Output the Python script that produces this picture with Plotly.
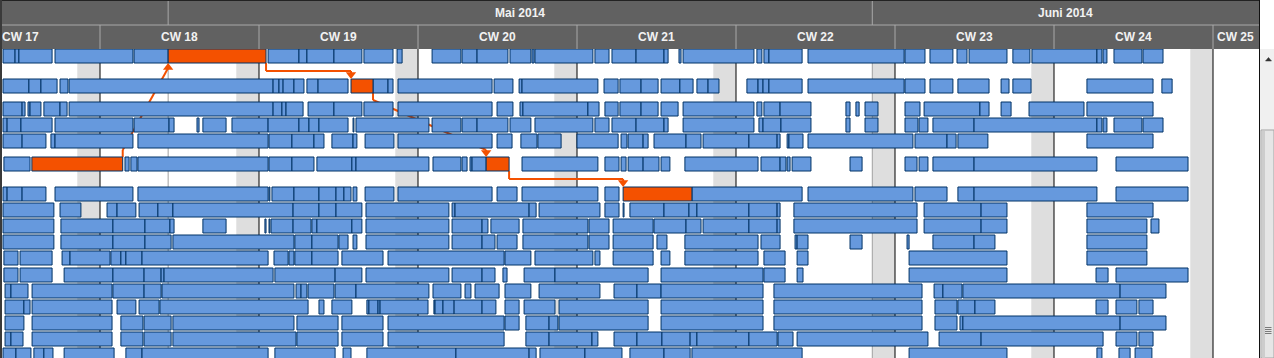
import pandas as pd
import plotly.graph_objects as go

# ---------------------------------------------------------------- data
BASE_DATE = "2014-04-28"            # day 0 = Monday of CW 18
VIEW_START = "2014-04-23 16:27"
VIEW_END = "2014-06-18 00:36"

WEEK_NUMBERS = [17, 18, 19, 20, 21, 22, 23, 24, 25]
WEEK_STARTS = ["2014-04-21", "2014-04-28", "2014-05-05", "2014-05-12", "2014-05-19",
               "2014-05-26", "2014-06-02", "2014-06-09", "2014-06-16"]
MONTH_LABELS = ["Mai 2014", "Juni 2014"]
MONTH_STARTS = ["2014-05-01", "2014-06-01"]
MONTH_ENDS = ["2014-06-01", "2014-07-01"]

# task intervals per resource row: (start_day, end_day) relative to BASE_DATE
ROW_01 = [(-4.27, -3.74), (-3.74, -3.57), (-3.57, -2.11), (-1.98, 1.45), (1.50, 3.00),
          (7.40, 8.76), (8.76, 9.11), (9.11, 10.30), (10.30, 11.53), (11.62, 12.90), (13.08, 13.30),
          (14.62, 15.89), (15.94, 16.60), (16.60, 17.96), (18.05, 18.97), (19.02, 19.11), (19.15, 21.70),
          (21.79, 22.41), (22.54, 23.60), (23.60, 24.83), (24.83, 25.01), (25.49, 25.58), (25.67, 28.79),
          (28.92, 29.14), (29.23, 29.45), (29.45, 30.91), (31.17, 35.40), (35.44, 36.32), (36.54, 37.55),
          (37.73, 38.17), (38.26, 39.93), (40.19, 40.94), (41.03, 43.89), (43.89, 44.11), (44.16, 44.33),
          (44.64, 45.87), (45.92, 46.80)]
ROW_02 = [(-4.27, -3.13), (-3.13, -2.60), (-2.60, -1.89), (-1.76, -1.41), (-1.36, 7.62), (7.62, 7.88),
          (7.88, 8.06), (8.06, 8.54), (8.54, 8.98), (9.11, 9.60), (9.60, 10.92), (12.02, 12.68),
          (12.68, 12.90), (13.12, 17.26), (17.35, 18.18), (18.45, 18.58), (18.58, 21.92), (22.19, 22.81),
          (22.89, 23.82), (23.82, 24.57), (24.70, 25.53), (25.53, 26.11), (26.28, 26.77), (26.77, 27.25),
          (28.48, 28.97), (28.97, 29.19), (29.19, 29.45), (29.45, 30.91), (31.17, 35.40), (35.44, 36.32),
          (36.54, 37.55), (37.77, 39.14), (39.67, 40.02), (40.19, 40.99), (43.45, 46.36), (46.75, 47.20)]
ROW_03 = [(-4.27, -3.43), (-3.43, -3.30), (-3.17, -3.08), (-3.08, -2.60), (-2.47, -1.76), (-1.76, -1.45),
          (-1.36, 7.62), (7.62, 8.01), (8.01, 8.19), (8.19, 8.94), (9.16, 10.30), (10.30, 11.53),
          (11.62, 12.90), (13.12, 17.26), (17.48, 18.18), (18.49, 18.62), (18.62, 21.48), (21.48, 21.97),
          (22.23, 22.81), (22.89, 23.82), (23.82, 24.57), (24.70, 25.45), (25.67, 28.79), (28.92, 29.14),
          (29.23, 29.94), (29.94, 31.30), (32.84, 33.02), (33.28, 33.42), (33.68, 34.25), (35.44, 36.10),
          (36.28, 38.74), (38.74, 39.14), (39.67, 40.11), (40.90, 43.32), (43.45, 46.36)]
ROW_04 = [(-4.27, -4.09), (-4.09, -3.48), (-3.48, -2.11), (-1.98, 1.45), (1.50, 3.04), (3.04, 3.26),
          (4.27, 4.36), (4.53, 5.55), (5.81, 7.40), (7.40, 8.76), (8.76, 9.20), (9.20, 9.64), (9.64, 10.92),
          (11.14, 11.18), (11.27, 14.48), (14.62, 15.89), (15.94, 16.60), (16.60, 17.96), (18.05, 18.97),
          (19.15, 21.70), (21.79, 22.41), (22.54, 23.60), (23.60, 24.83), (24.83, 25.01), (25.67, 28.79),
          (29.01, 29.19), (29.19, 29.98), (29.98, 31.30), (32.84, 33.02), (33.68, 34.25), (35.44, 36.01),
          (36.06, 36.45), (36.67, 38.48), (38.48, 43.89), (43.89, 44.11), (44.16, 44.33), (44.64, 45.87),
          (45.92, 46.80)]
ROW_05 = [(-4.27, -3.43), (-3.43, -2.38), (-2.16, -1.98), (-1.98, 1.45), (1.67, 7.40), (7.44, 8.45),
          (8.45, 9.42), (9.42, 9.86), (10.21, 11.14), (11.14, 11.31), (11.67, 12.94), (13.12, 17.26),
          (17.48, 18.14), (18.53, 19.24), (19.28, 20.30), (21.00, 22.81), (22.94, 23.20), (23.25, 23.91),
          (23.91, 24.13), (24.39, 25.80), (25.80, 26.46), (26.55, 28.57), (28.57, 29.81), (29.81, 29.94),
          (30.25, 30.33), (30.33, 30.95), (31.17, 35.79), (35.88, 37.29), (37.29, 37.69), (37.77, 39.09),
          (43.45, 46.36)]
ROW_06 = [(-4.23, -3.08), (1.10, 1.28), (1.36, 1.63), (1.67, 7.40), (7.44, 8.45), (8.45, 9.42),
          (9.55, 11.09), (11.09, 11.27), (11.27, 14.48), (14.66, 15.89), (15.94, 16.16), (16.29, 16.38),
          (16.38, 17.00), (18.58, 21.92), (22.23, 22.85), (22.94, 23.16), (23.25, 23.91), (23.91, 24.61),
          (24.70, 25.09), (25.75, 28.97), (29.10, 29.94), (29.94, 30.20), (30.25, 30.38), (30.47, 31.30),
          (33.02, 33.55), (35.44, 35.97), (36.06, 36.45), (36.67, 38.48), (38.48, 43.89), (44.73, 47.90)]
ROW_07 = [(-4.27, -4.09), (-4.09, -3.43), (-3.43, -2.38), (-1.98, 1.45), (1.67, 7.40), (7.44, 7.48),
          (7.57, 8.54), (8.54, 9.64), (9.64, 10.39), (10.39, 10.74), (10.74, 11.05), (11.14, 11.31),
          (11.67, 12.94), (13.12, 17.26), (17.48, 18.36), (18.58, 21.92), (22.23, 22.85), (26.06, 30.91),
          (31.17, 35.79), (35.88, 37.29), (37.77, 38.48), (38.48, 43.89), (44.73, 47.90)]
ROW_08 = [(-4.27, -2.03), (-1.76, -0.84), (0.31, 0.75), (0.75, 1.58), (1.72, 2.55), (2.55, 3.21),
          (3.21, 8.50), (8.50, 9.64), (9.64, 10.39), (10.39, 11.53), (11.71, 15.36), (15.50, 15.63),
          (15.63, 18.89), (18.89, 19.20), (19.33, 22.01), (22.23, 22.85), (23.03, 23.07), (23.33, 24.83),
          (24.83, 25.93), (25.93, 26.28), (26.28, 28.57), (28.57, 29.81), (29.81, 29.94), (30.55, 35.97),
          (36.28, 38.79), (38.79, 39.93), (43.45, 46.36)]
ROW_09 = [(-4.27, -2.03), (-1.72, 0.57), (0.57, 1.98), (1.98, 3.08), (3.08, 3.26), (4.53, 5.55),
          (7.26, 7.31), (7.44, 7.48), (7.53, 8.50), (8.50, 9.29), (9.33, 9.55), (9.55, 11.09), (11.09, 11.53),
          (11.71, 15.36), (15.50, 16.82), (16.82, 17.08), (17.21, 18.45), (18.62, 21.48), (21.53, 22.41),
          (22.59, 24.35), (24.39, 25.80), (25.80, 26.46), (26.55, 28.57), (28.57, 29.81), (29.81, 29.94),
          (30.55, 35.97), (36.28, 38.79), (38.79, 39.93), (43.45, 46.09), (46.27, 46.62)]
ROW_10 = [(-4.27, -2.03), (-1.72, 0.57), (0.57, 1.98), (1.98, 3.13), (3.21, 8.54), (8.58, 9.33),
          (9.33, 10.48), (10.52, 10.92), (11.14, 11.31), (11.71, 15.36), (15.50, 16.82), (16.82, 17.39),
          (17.48, 18.36), (18.62, 21.48), (21.53, 22.41), (22.59, 24.35), (24.52, 24.96), (25.75, 28.97),
          (29.10, 29.94), (30.60, 30.69), (30.69, 31.17), (33.02, 33.55), (35.53, 35.62), (36.67, 38.48),
          (38.48, 39.40), (43.45, 46.09)]
ROW_11 = [(-4.23, -3.61), (-3.52, -2.11), (-1.67, -1.32), (-1.32, 0.44), (0.48, 0.92), (0.92, 1.14),
          (1.14, 1.85), (1.85, 7.40), (7.66, 8.28), (8.32, 8.54), (8.58, 9.33), (9.33, 10.48),
          (10.65, 12.46), (12.68, 17.79), (17.83, 18.97), (19.15, 21.70), (21.79, 22.01), (22.59, 24.35),
          (24.70, 25.09), (25.75, 28.97), (29.23, 30.16), (30.69, 31.17), (35.62, 39.93), (43.45, 46.09)]
ROW_12 = [(-4.23, -3.61), (-3.52, -2.11), (-1.58, 0.57), (0.57, 1.94), (1.94, 2.69), (2.69, 2.82),
          (2.82, 7.62), (7.70, 10.35), (10.35, 11.53), (11.71, 15.36), (15.50, 16.82), (16.82, 17.39),
          (17.74, 17.92), (18.67, 20.03), (20.03, 24.13), (24.70, 29.19), (29.23, 30.16), (30.69, 30.95),
          (35.62, 39.93), (43.85, 44.38), (44.73, 47.90)]
ROW_13 = [(-4.18, -3.92), (-3.92, -3.17), (-2.99, 0.53), (0.57, 1.94), (1.94, 2.69), (2.73, 8.54),
          (8.63, 8.85), (8.85, 9.11), (9.16, 10.30), (10.35, 11.27), (11.27, 14.48), (14.66, 15.89),
          (16.07, 16.33), (16.51, 17.57), (17.83, 18.97), (19.33, 22.01), (22.63, 23.64), (23.64, 24.70),
          (24.70, 29.19), (29.67, 36.19), (36.72, 37.11), (37.11, 37.95), (37.99, 44.91), (44.91, 46.93)]
ROW_14 = [(-4.18, -3.35), (-3.35, -3.08), (-2.99, 0.53), (0.75, 1.58), (1.72, 2.60), (2.64, 9.16),
          (9.64, 9.86), (10.21, 11.09), (11.75, 11.84), (11.84, 12.24), (12.24, 12.33), (12.33, 14.44),
          (14.70, 14.75), (14.75, 15.10), (15.10, 15.59), (15.59, 16.82), (16.82, 17.43), (17.83, 18.45),
          (18.67, 20.03), (20.21, 24.13), (24.70, 29.19), (29.67, 36.19), (36.76, 37.73), (37.77, 38.52),
          (38.52, 39.40), (43.85, 44.38), (44.73, 45.65), (45.74, 46.36)]
ROW_15 = [(-4.18, -3.35), (-2.99, 0.53), (0.92, 1.89), (1.94, 3.13), (3.21, 8.54), (8.67, 10.48),
          (10.65, 12.46), (12.68, 17.79), (17.83, 18.45), (18.75, 19.77), (19.77, 20.16), (20.21, 24.13),
          (24.70, 29.19), (29.67, 36.19), (36.76, 37.73), (37.86, 37.99), (37.99, 44.91), (44.91, 46.93)]
ROW_16 = [(-4.18, -3.92), (-3.92, -3.39), (-2.99, 0.53), (0.92, 1.89), (1.94, 3.13), (3.21, 8.63),
          (8.67, 10.48), (10.65, 12.46), (12.68, 17.79), (18.75, 19.77), (19.77, 21.66), (21.66, 21.92),
          (22.63, 23.64), (23.64, 24.74), (24.74, 25.98), (25.98, 26.28), (26.28, 28.57), (28.57, 29.81),
          (29.85, 30.51), (30.69, 36.45), (36.94, 38.79), (38.79, 44.16), (44.73, 45.65), (45.74, 46.36)]
ROW_17 = [(-4.27, -3.70), (-3.70, -3.04), (-2.91, -2.47), (-2.47, -2.07), (-1.58, 0.62), (1.14, 1.85),
          (1.85, 7.40), (7.70, 10.35), (10.70, 11.05), (11.75, 15.67), (15.67, 18.89), (18.89, 19.20),
          (19.37, 21.35), (21.35, 22.98), (23.33, 24.83), (24.83, 25.98), (26.06, 30.91), (35.62, 39.93),
          (43.89, 44.11), (44.86, 45.35), (45.57, 46.31)]
ROW_TASKS = [ROW_01, ROW_02, ROW_03, ROW_04, ROW_05, ROW_06, ROW_07, ROW_08, ROW_09,
             ROW_10, ROW_11, ROW_12, ROW_13, ROW_14, ROW_15, ROW_16, ROW_17]

# critical path tasks (row index, start_day, end_day), linked in this order
CRITICAL_TASKS = [(5, -3.00, 1.00), (0, 3.00, 7.31), (1, 11.05, 12.02), (5, 17.00, 18.01), (6, 23.03, 26.06)]

# ---------------------------------------------------------------- layout constants
W, H = 1274, 358
M_L, M_R, M_T, M_B = 2, 15, 49, 0
PW, PH = W - M_L - M_R, H - M_T - M_B
ROW_Y = [56, 86, 109, 125, 141, 164, 194, 210, 226, 242, 258, 275, 291, 307, 323, 339, 355]
BAR_H = 14

BLUE = "#6699dd"
NAVY = "#003366"
ORANGE = "#f45100"
HEADER = "#616161"
HEADER_LINE = "#a9a9a9"
WEEKEND = "#dedede"

base = pd.Timestamp(BASE_DATE)


def to_date(d):
    return base + pd.to_timedelta(d, unit="D")


def ds(ts):
    return pd.Timestamp(ts).strftime("%Y-%m-%d %H:%M:%S")


def fx(px):
    return (px - M_L) / PW


def fy(py):
    return (H - M_B - py) / PH


fig = go.Figure()

# ---- bars
def bar_trace(items, color):
    ys, bs, xs = [], [], []
    for r, s, e in items:
        ys.append(ROW_Y[r])
        bs.append(ds(to_date(s)))
        xs.append((e - s) * 86400000.0)
    return go.Bar(orientation="h", y=ys, base=bs, x=xs, width=BAR_H,
                  marker=dict(color=color, line=dict(color=NAVY, width=1)),
                  hoverinfo="skip", showlegend=False)

blue_items = [(r, s, e) for r, tasks in enumerate(ROW_TASKS) for s, e in tasks]
fig.add_trace(bar_trace(blue_items, BLUE))
fig.add_trace(bar_trace(CRITICAL_TASKS, ORANGE))

shapes = []
# ---- weekend (Sunday) bands and week/month lines
vs, ve = pd.Timestamp(VIEW_START), pd.Timestamp(VIEW_END)
for wk in WEEK_STARTS + ["2014-06-23"]:
    sun = pd.Timestamp(wk) - pd.Timedelta(days=1)
    shapes.append(dict(type="rect", xref="x", yref="paper", x0=ds(sun), x1=ds(wk),
                       y0=0, y1=1, fillcolor=WEEKEND, line=dict(width=0), layer="below"))
for wk in WEEK_STARTS:
    shapes.append(dict(type="line", xref="x", yref="paper", x0=wk, x1=wk, y0=0, y1=1,
                       line=dict(color="#000000", width=1), layer="below"))
for ms in MONTH_STARTS:
    shapes.append(dict(type="line", xref="x", yref="paper", x0=ms, x1=ms, y0=0, y1=1,
                       line=dict(color="#a0a0a0", width=1), layer="below"))

# ---- dependency links between critical tasks
arr_x, arr_y, arr_s = [], [], []
half = BAR_H / 2
for (r0, s0, e0), (r1, s1, e1) in zip(CRITICAL_TASKS[:-1], CRITICAL_TASKS[1:]):
    y0, y1 = ROW_Y[r0], ROW_Y[r1]
    xa, xb = ds(to_date(e0)), ds(to_date(s1))
    if y1 < y0:
        pts = [(xa, y0 - half), (xa, y0 - half - 7), (xb, y1 + half + 5)]
        arr_x.append(xb); arr_y.append(y1 + half + 4.5); arr_s.append("triangle-up")
    elif y1 - y0 <= 40:
        ym = y0 + half + 8
        pts = [(xa, y0 + half), (xa, ym), (xb, ym), (xb, y1 - half - 4)]
        arr_x.append(xb); arr_y.append(y1 - half - 4.5); arr_s.append("triangle-down")
    else:
        pts = [(xa, y0 + half), (xa, y0 + half + 7), (xb, y1 - half - 7), (xb, y1 - half - 4)]
        arr_x.append(xb); arr_y.append(y1 - half - 4.5); arr_s.append("triangle-down")
    for (px0, py0), (px1, py1) in zip(pts[:-1], pts[1:]):
        shapes.append(dict(type="line", xref="x", yref="y", x0=px0, x1=px1, y0=py0, y1=py1,
                           line=dict(color=ORANGE, width=2), layer="below"))

fig.add_trace(go.Scatter(x=arr_x, y=arr_y, mode="markers",
                         marker=dict(symbol=arr_s, size=9, color=ORANGE, line=dict(width=0)),
                         hoverinfo="skip", showlegend=False))

# ---- header
shapes.append(dict(type="rect", xref="paper", yref="paper", x0=fx(0), x1=fx(1259.5),
                   y0=fy(49), y1=fy(0), fillcolor=HEADER, line=dict(width=0), layer="above"))
shapes.append(dict(type="line", xref="paper", yref="paper", x0=fx(0), x1=fx(1259.5),
                   y0=fy(25), y1=fy(25), line=dict(color=HEADER_LINE, width=1), layer="above"))
for ms in MONTH_STARTS:
    shapes.append(dict(type="line", xref="x", yref="paper", x0=ms, x1=ms, y0=fy(25), y1=fy(0),
                       line=dict(color=HEADER_LINE, width=1), layer="above"))
for wk in WEEK_STARTS:
    shapes.append(dict(type="line", xref="x", yref="paper", x0=wk, x1=wk, y0=fy(49), y1=fy(25),
                       line=dict(color=HEADER_LINE, width=1), layer="above"))

annotations = []
hdr_font = dict(family="Arial, Liberation Sans, sans-serif", size=12, color="#f2f2f2")
for lab, a, b in zip(MONTH_LABELS, MONTH_STARTS, MONTH_ENDS):
    lo, hi = max(pd.Timestamp(a), vs), min(pd.Timestamp(b), ve)
    annotations.append(dict(x=ds(lo + (hi - lo) / 2), y=fy(13), xref="x", yref="paper",
                            text="<b>%s</b>" % lab, showarrow=False, font=hdr_font,
                            xanchor="center", yanchor="middle"))
for n, wk in zip(WEEK_NUMBERS, WEEK_STARTS):
    c = pd.Timestamp(wk) + pd.Timedelta(hours=84)
    ann = dict(y=fy(37), xref="x", yref="paper", text="<b>CW %d</b>" % n, showarrow=False,
               font=hdr_font, yanchor="middle")
    if c + pd.Timedelta(days=0.8) > ve:
        ann.update(x=ds(ve), xanchor="right", xshift=-3)
    else:
        ann.update(x=ds(c), xanchor="center")
    annotations.append(ann)

# ---- frame borders
shapes.append(dict(type="line", xref="paper", yref="paper", x0=fx(0), x1=fx(1260),
                   y0=fy(0.5), y1=fy(0.5), line=dict(color="#222222", width=1), layer="above"))
shapes.append(dict(type="line", xref="paper", yref="paper", x0=fx(1), x1=fx(1),
                   y0=fy(0), y1=fy(H), line=dict(color="#3a3a3a", width=2), layer="above"))
shapes.append(dict(type="line", xref="paper", yref="paper", x0=fx(1259.5), x1=fx(1259.5),
                   y0=fy(0), y1=fy(H), line=dict(color="#111111", width=1), layer="above"))

# ---- scrollbar
shapes.append(dict(type="rect", xref="paper", yref="paper", x0=fx(1260), x1=fx(1274),
                   y0=fy(H), y1=fy(49), fillcolor="#f0f0f0", line=dict(width=0), layer="above"))
shapes.append(dict(type="path", xref="paper", yref="paper",
                   path="M %f,%f L %f,%f L %f,%f Z" % (fx(1265.5), fy(61), fx(1271.5), fy(61), fx(1268.5), fy(57.5)),
                   fillcolor="#333333", line=dict(color="#333333", width=0.5), layer="above"))
shapes.append(dict(type="rect", xref="paper", yref="paper", x0=fx(1261), x1=fx(1274),
                   y0=fy(H), y1=fy(130), fillcolor="#e6e6e6", line=dict(color="#a5a5a5", width=1),
                   layer="above"))
shapes.append(dict(type="rect", xref="paper", yref="paper", x0=fx(1262), x1=fx(1265),
                   y0=fy(H), y1=fy(131), fillcolor="#cdcdcd", line=dict(width=0), layer="above"))
for gy in [327.5, 329.5, 331.5, 333.5]:
    shapes.append(dict(type="line", xref="paper", yref="paper", x0=fx(1265), x1=fx(1271.5),
                       y0=fy(gy), y1=fy(gy), line=dict(color="#7a7a7a", width=1), layer="above"))

fig.update_layout(
    width=W, height=H,
    margin=dict(l=M_L, r=M_R, t=M_T, b=M_B, pad=0),
    paper_bgcolor="#ffffff", plot_bgcolor="#ffffff",
    barmode="overlay", showlegend=False,
    shapes=shapes, annotations=annotations,
    xaxis=dict(type="date", range=[VIEW_START, VIEW_END], showgrid=False, zeroline=False,
               showticklabels=False, ticks="", showline=False, fixedrange=True),
    yaxis=dict(range=[H - M_B, M_T], showgrid=False, zeroline=False, showticklabels=False,
               ticks="", showline=False, fixedrange=True),
    font=dict(family="Arial, Liberation Sans, sans-serif"),
)

fig.write_html("out.html", config={"displayModeBar": False},
               post_script="document.body.style.margin='0px';document.body.style.overflow='hidden';")
